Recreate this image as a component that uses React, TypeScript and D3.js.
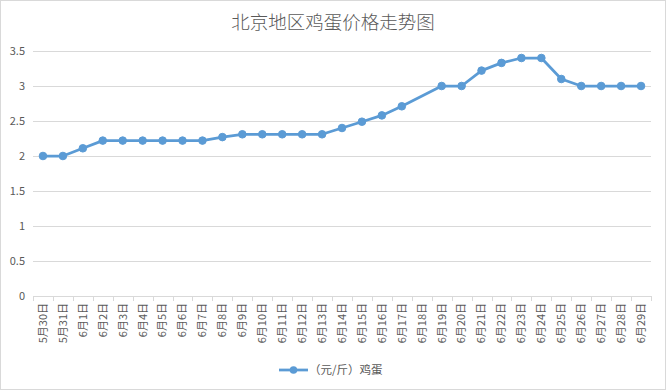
import React from "react";
import * as d3 from "d3";

const categories = [
  "5月30日", "5月31日", "6月1日", "6月2日", "6月3日", "6月4日", "6月5日", "6月6日",
  "6月7日", "6月8日", "6月9日", "6月10日", "6月11日", "6月12日", "6月13日", "6月14日",
  "6月15日", "6月16日", "6月17日", "6月18日", "6月19日", "6月20日", "6月21日", "6月22日",
  "6月23日", "6月24日", "6月25日", "6月26日", "6月27日", "6月28日", "6月29日",
];
const prices: (number | null)[] = [
  2.0, 2.0, 2.11, 2.22, 2.22, 2.22, 2.22, 2.22,
  2.22, 2.27, 2.31, 2.31, 2.31, 2.31, 2.31, 2.4,
  2.49, 2.58, 2.71, null, 3.0, 3.0, 3.22, 3.33,
  3.4, 3.4, 3.1, 3.0, 3.0, 3.0, 3.0,
];
const yTicks = [0, 0.5, 1, 1.5, 2, 2.5, 3, 3.5];
const title = "北京地区鸡蛋价格走势图";
const seriesName = "（元/斤）鸡蛋";

const W = 666;
const H = 390;
const FONT = "'Noto Sans CJK SC', 'Noto Sans', sans-serif";
const TXT = "#595959";
const GRID = "#d9d9d9";
const BLUE = "#5B9BD5";

export default function App() {
  const x = d3.scaleBand<string>().domain(categories).range([33, 651]);
  const y = d3.scaleLinear().domain([0, 3.5]).range([296, 51]);
  const pts = categories
    .map((c, i) => ({ c, v: prices[i] }))
    .filter((d) => d.v != null) as { c: string; v: number }[];
  const cx = (c: string) => (x(c) as number) + x.bandwidth() / 2;
  const line = d3
    .line<{ c: string; v: number }>()
    .x((d) => cx(d.c))
    .y((d) => y(d.v));
  const bounds = categories.map((c) => x(c) as number).concat([x.range()[1]]);

  return (
    <svg
      width={W}
      height={H}
      style={{ position: "absolute", left: 0, top: 0, background: "#fff" }}
      fontFamily={FONT}
    >
      <rect x={0.5} y={0.5} width={W - 1} height={H - 1} fill="#fff" stroke={GRID} />
      <text x={333} y={29} textAnchor="middle" fontSize={18.5} fontWeight={300} fill={TXT}>
        {title}
      </text>
      {yTicks.map((t) => (
        <g key={t}>
          {t !== 0 && (
            <line x1={33} x2={651} y1={Math.round(y(t)) + 0.5} y2={Math.round(y(t)) + 0.5} stroke={GRID} />
          )}
          <text x={25} y={y(t)} dy="0.35em" textAnchor="end" fontSize={11} fill={TXT}>
            {t}
          </text>
        </g>
      ))}
      <line x1={33} x2={651} y1={296.5} y2={296.5} stroke={GRID} />
      {bounds.map((b, i) => (
        <line key={i} x1={Math.round(b) + 0.5} x2={Math.round(b) + 0.5} y1={296} y2={301} stroke={GRID} />
      ))}
      {categories.map((c) => (
        <text
          key={c}
          transform={`translate(${cx(c)},303) rotate(-90)`}
          textAnchor="end"
          dy="0.35em"
          fontSize={11}
          fill={TXT}
        >
          {c}
        </text>
      ))}
      <path d={line(pts) || ""} fill="none" stroke={BLUE} strokeWidth={2.75} strokeLinejoin="round" />
      {pts.map((d) => (
        <circle key={d.c} cx={cx(d.c)} cy={y(d.v)} r={3.8} fill={BLUE} stroke={BLUE} />
      ))}
      <line x1={279} x2={308} y1={370} y2={370} stroke={BLUE} strokeWidth={2.75} />
      <circle cx={293.5} cy={370} r={3.8} fill={BLUE} />
      <text x={309} y={370} dy="0.35em" fontSize={11.5} fill={TXT}>
        {seriesName}
      </text>
    </svg>
  );
}
